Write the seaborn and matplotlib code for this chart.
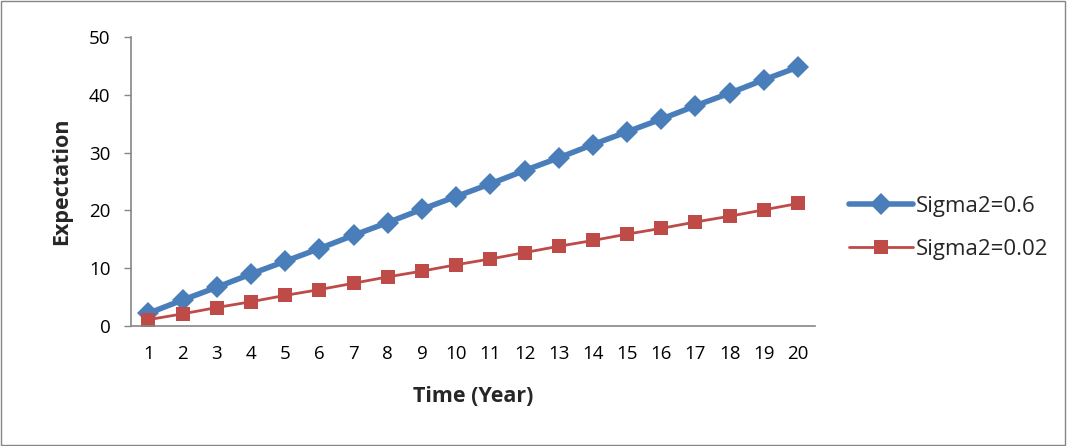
# Expectation over time for two sigma2 values

import pandas as pd
import matplotlib.pyplot as plt
import seaborn as sns

years = list(range(1, 21))
sigma_06 = [2.2, 4.5, 6.7, 9.0, 11.2, 13.4, 15.7, 17.9, 20.2, 22.4,
            24.6, 26.9, 29.1, 31.4, 33.6, 35.8, 38.1, 40.3, 42.6, 44.8]
sigma_002 = [1.1, 2.1, 3.2, 4.2, 5.3, 6.3, 7.4, 8.5, 9.5, 10.6,
             11.6, 12.7, 13.8, 14.8, 15.9, 16.9, 18.0, 19.0, 20.1, 21.2]

df = pd.DataFrame({"Year": years, "Sigma2=0.6": sigma_06, "Sigma2=0.02": sigma_002})

sns.set_style("white")
plt.rcParams['font.family'] = ['Open Sans', 'DejaVu Sans']

fig = plt.figure(figsize=(10.67, 4.46), dpi=100)
ax = fig.add_axes([0.123, 0.269, 0.641, 0.648])

sns.lineplot(data=df, x="Year", y="Sigma2=0.6", ax=ax, color="#4a7ebb", linewidth=4,
             marker="D", markersize=11, markeredgewidth=0, label="Sigma2=0.6")
sns.lineplot(data=df, x="Year", y="Sigma2=0.02", ax=ax, color="#be4b48", linewidth=2,
             marker="s", markersize=10, markeredgewidth=0, label="Sigma2=0.02")

ax.set_xlim(0.5, 20.5)
ax.set_ylim(0, 50)
ax.set_xticks(years)
ax.set_yticks([0, 10, 20, 30, 40, 50])
ax.tick_params(axis='both', labelsize=13.5, colors='black')
ax.tick_params(axis='y', length=5, width=1, color='#868686', direction='out', left=True, pad=10)
ax.tick_params(axis='x', length=0, pad=14)
sns.despine(ax=ax)
for s in ['left', 'bottom']:
    ax.spines[s].set_color('#868686')
    ax.spines[s].set_linewidth(1.2)

ax.set_xlabel("Time (Year)", fontsize=15.5, fontweight='bold', labelpad=16)
ax.set_ylabel("Expectation", fontsize=15.5, fontweight='bold', labelpad=12)

ax.legend(loc='center left', bbox_to_anchor=(1.02, 0.34), frameon=False, fontsize=16,
          handlelength=2.9, labelspacing=1.0, handletextpad=0.1)

fig.patches.append(plt.Rectangle((0.001, 0.002), 0.997, 0.995, transform=fig.transFigure,
                                 fill=False, edgecolor='#868686', linewidth=1))

fig.savefig("out.png", dpi=100)
